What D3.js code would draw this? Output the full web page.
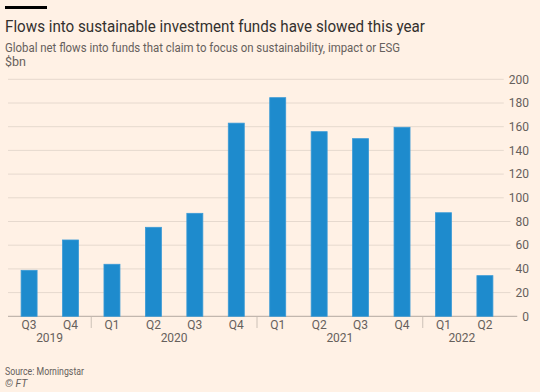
<!DOCTYPE html>
<html>
<head>
<meta charset="utf-8">
<script src="https://cdn.jsdelivr.net/npm/d3@7"></script>
<style>
  body { margin: 0; background: #fff1e5; }
  svg { display: block; font-family: Roboto, "Noto Sans", sans-serif; }
</style>
</head>
<body>
<svg width="540" height="392"></svg>
<script>
// chart data
const quarters = ['Q3', 'Q4', 'Q1', 'Q2', 'Q3', 'Q4', 'Q1', 'Q2', 'Q3', 'Q4', 'Q1', 'Q2'];
const years = ['2019', '2019', '2020', '2020', '2020', '2020', '2021', '2021', '2021', '2021', '2022', '2022'];
const flows = [38.8, 64.4, 43.9, 75.1, 86.9, 163, 184.5, 155.8, 149.9, 159.5, 87.4, 34.3];
const yTicks = [0, 20, 40, 60, 80, 100, 120, 140, 160, 180, 200];

const svg = d3.select('svg');
const plotLeft = 8, bandRight = 506, plotRight = 501;
const plotTop = 79.3, plotBottom = 316.3;

const keys = quarters.map((q, i) => years[i] + q);

const x = d3.scaleBand()
  .domain(keys)
  .range([plotLeft, bandRight])
  .paddingInner(0.614)
  .paddingOuter(0.316);

const y = d3.scaleLinear().domain([0, 200]).range([plotBottom, plotTop]);

// header
svg.append('rect').attr('x', 5).attr('y', 6).attr('width', 42).attr('height', 3).attr('fill', '#000');
svg.append('text').attr('x', 5).attr('y', 32)
  .attr('font-size', 16.5).attr('fill', '#33302e')
  .attr('textLength', 420).attr('lengthAdjust', 'spacingAndGlyphs')
  .text('Flows into sustainable investment funds have slowed this year');
svg.append('text').attr('x', 5).attr('y', 51.5)
  .attr('font-size', 12.5).attr('fill', '#66605c')
  .attr('textLength', 395).attr('lengthAdjust', 'spacingAndGlyphs')
  .text('Global net flows into funds that claim to focus on sustainability, impact or ESG');
svg.append('text').attr('x', 5).attr('y', 66)
  .attr('font-size', 12.5).attr('fill', '#66605c')
  .text('$bn');

// gridlines + y labels, lines stop just before the label
const grid = svg.append('g');
yTicks.forEach((t) => {
  let label = grid.append('text')
    .attr('x', 529).attr('y', y(t)).attr('dy', '0.35em')
    .attr('text-anchor', 'end')
    .attr('font-size', 12).attr('fill', '#66605c')
    .text(t);
  let start = label.node().getBBox().x;
  grid.insert('line', 'text')
    .attr('x1', plotLeft).attr('x2', start - 5)
    .attr('y1', y(t)).attr('y2', y(t))
    .attr('stroke', t === 0 ? '#b3a9a0' : '#e6d9ce')
    .attr('stroke-width', 1);
});

// bars
svg.append('g').selectAll('rect')
  .data(flows)
  .join('rect')
  .attr('x', (d, i) => x(keys[i]))
  .attr('width', x.bandwidth())
  .attr('y', (d) => y(d))
  .attr('height', (d) => y(0) - y(d))
  .attr('fill', '#1e8bcd')
  .attr('stroke', '#3a9ad6')
  .attr('stroke-width', 0.8);

// quarter labels
svg.append('g').selectAll('text')
  .data(quarters)
  .join('text')
  .attr('x', (d, i) => x(keys[i]) + x.bandwidth() / 2)
  .attr('y', 329)
  .attr('text-anchor', 'middle')
  .attr('font-size', 12).attr('fill', '#66605c')
  .text((d) => d);

// year separators and labels
const yearList = Array.from(new Set(years));
let edges = [plotLeft];
yearList.forEach((yr, k) => {
  if (k === 0) return;
  let i = years.indexOf(yr);
  let sep = (x(keys[i - 1]) + x.bandwidth() + x(keys[i])) / 2;
  edges.push(sep);
  svg.append('line')
    .attr('x1', sep).attr('x2', sep)
    .attr('y1', 317).attr('y2', 328)
    .attr('stroke', '#ccc1b7');
});
edges.push(plotRight);

svg.append('g').selectAll('text')
  .data(yearList)
  .join('text')
  .attr('x', (d, k) => (edges[k] + edges[k + 1]) / 2)
  .attr('y', 342)
  .attr('text-anchor', 'middle')
  .attr('font-size', 12).attr('fill', '#66605c')
  .text((d) => d);

// footer
svg.append('text').attr('x', 5).attr('y', 375)
  .attr('font-size', 10.5).attr('fill', '#66605c')
  .attr('textLength', 79).attr('lengthAdjust', 'spacingAndGlyphs')
  .text('Source: Morningstar');
svg.append('text').attr('x', 5).attr('y', 387)
  .attr('font-size', 10.5).attr('fill', '#66605c')
  .attr('font-style', 'italic')
  .text('© FT');
</script>
</body>
</html>
